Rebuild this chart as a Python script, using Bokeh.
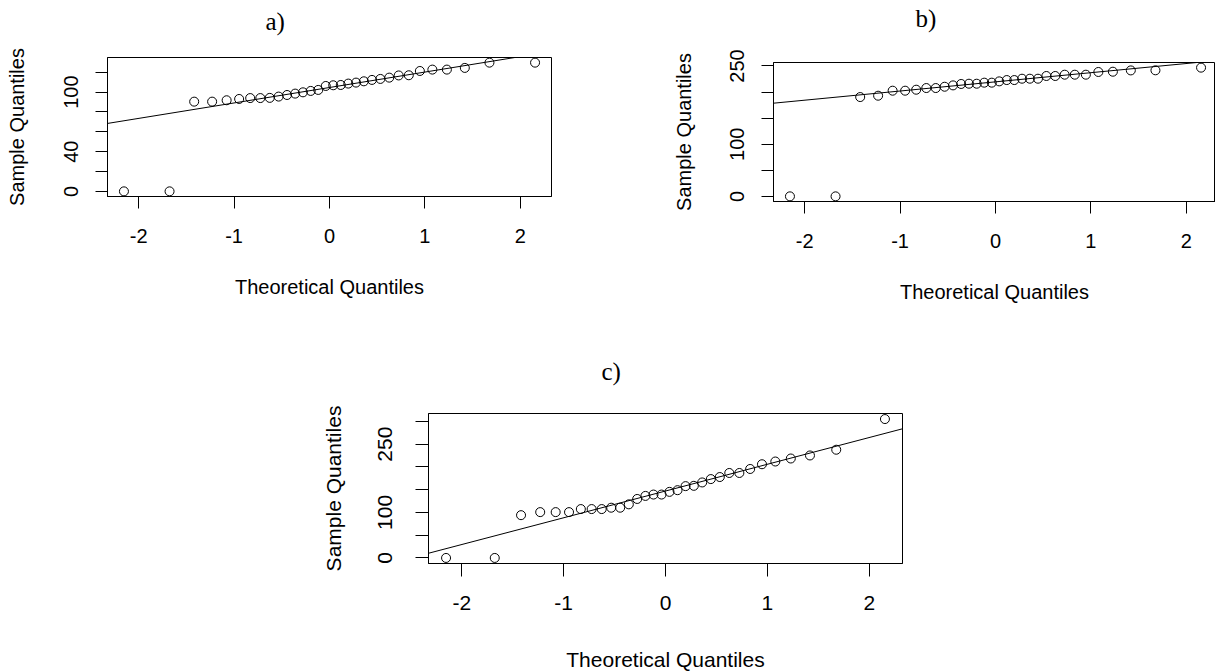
import numpy as np
from bokeh.plotting import figure
from bokeh.layouts import column, row
from bokeh.models import Range1d, FixedTicker, Slope, Spacer
from bokeh.embed import file_html
from bokeh.resources import INLINE

# ---- data ----
theoretical_q = [-2.154, -1.676, -1.418, -1.230, -1.078, -0.947, -0.831, -0.725,
                 -0.626, -0.533, -0.445, -0.360, -0.278, -0.197, -0.118, -0.039,
                 0.039, 0.118, 0.197, 0.278, 0.360, 0.445, 0.533, 0.626,
                 0.725, 0.831, 0.947, 1.078, 1.230, 1.418, 1.676, 2.154]

sample_a = [0, 0, 90.4, 90.4, 91.8, 93.1, 94.0, 94.0, 94.2, 95.5, 97.1, 98.5,
            99.8, 101.2, 102.2, 106.2, 106.9, 107.2, 108.6, 109.6, 110.9, 112.3,
            113.3, 114.6, 116.8, 117.0, 121.3, 122.7, 122.7, 124.4, 129.7, 129.7]

sample_b = [0, 0, 190.4, 193.0, 202.6, 202.6, 204.5, 207.7, 207.7, 210.2, 212.8,
            215.5, 216.0, 216.0, 218.0, 218.0, 220.5, 223.0, 223.0, 225.6, 225.6,
            225.6, 230.8, 230.8, 233.3, 233.3, 233.3, 238.5, 239.0, 241.5, 241.7, 246.8]

sample_c = [0, 0, 94.0, 100.7, 100.7, 100.7, 107.4, 107.4, 107.4, 110.4, 110.4,
            117.8, 129.6, 136.3, 139.3, 139.3, 145.2, 148.9, 157.8, 158.5, 165.9,
            173.3, 177.8, 186.7, 186.7, 195.5, 205.9, 211.9, 218.5, 225.2, 237.8, 305.2]

titles = ["a)", "b)", "c)"]
x_ticks = [-2, -1, 0, 1, 2]
y_ticks_a = [0, 20, 40, 60, 80, 100, 120]
y_labels_a = [0, 40, 100]
y_ticks_b = [0, 50, 100, 150, 200, 250]
y_labels_b = [0, 100, 250]
y_ticks_c = [0, 50, 100, 150, 200, 250, 300]
y_labels_c = [0, 100, 250]
x_label = "Theoretical Quantiles"
y_label = "Sample Quantiles"

QN25 = -0.6744897501960817  # normal quartiles used by qqline
QN75 = 0.6744897501960817


def qq_panel(sample, title, yticks, ylabels, fw, fh, bl, br, bt, bb,
             x_frac=1.0, fs=20, title_offset=0, title_pad=0,
             tick_len=12, ml_x=20, al_x=30, ml_y=17, al_y=34):
    x = np.array(theoretical_q)
    y = np.array(sample, dtype=float)
    xr = x.max() - x.min()
    yr = y.max() - y.min()
    x0, x1full = x.min() - 0.04 * xr, x.max() + 0.04 * xr
    x1 = x0 + (x1full - x0) * x_frac
    y0, y1 = y.min() - 0.04 * yr, y.max() + 0.04 * yr

    p = figure(frame_width=fw, frame_height=fh,
               min_border_left=bl, min_border_right=br,
               min_border_top=bt, min_border_bottom=bb,
               x_range=Range1d(x0, x1), y_range=Range1d(y0, y1),
               toolbar_location=None, output_backend="svg")
    p.title.text = title
    p.title.align = "left"
    p.title.vertical_align = "bottom"
    p.title.offset = title_offset
    p.title.standoff = 0
    try:
        p.title.padding = dict(left=0, right=0, top=0, bottom=title_pad)
    except Exception:
        try:
            p.title.padding = (0, 0, title_pad, 0)
        except Exception:
            p.title.standoff = min(2 * title_pad, bt - 31)
    p.title.text_font = "Liberation Serif"
    p.title.text_font_size = "25px"
    p.title.text_font_style = "normal"
    p.title.text_color = "black"

    p.xgrid.visible = False
    p.ygrid.visible = False
    p.outline_line_color = "black"
    p.outline_line_alpha = 1.0
    p.outline_line_width = 1
    p.background_fill_color = "white"
    p.border_fill_color = "white"

    for ax in (p.xaxis, p.yaxis):
        ax.axis_line_color = "black"
        ax.major_tick_line_color = "black"
        ax.major_tick_out = tick_len
        ax.major_tick_in = 0
        ax.minor_tick_out = 0
        ax.minor_tick_in = 0
        ax.major_label_text_font = "Liberation Sans"
        ax.major_label_text_font_size = f"{fs}px"
        ax.major_label_text_color = "black"
        ax.axis_label_text_font = "Liberation Sans"
        ax.axis_label_text_font_size = f"{fs}px"
        ax.axis_label_text_font_style = "normal"
        ax.axis_label_text_color = "black"

    p.xaxis.ticker = FixedTicker(ticks=x_ticks)
    p.xaxis.major_label_overrides = {t: str(t) for t in x_ticks}
    p.xaxis.axis_label = x_label
    p.xaxis.major_label_standoff = ml_x
    p.xaxis.axis_label_standoff = al_x

    p.yaxis.ticker = FixedTicker(ticks=yticks)
    p.yaxis.major_label_overrides = {t: (str(t) if t in ylabels else "") for t in yticks}
    p.yaxis.major_label_orientation = "vertical"
    p.yaxis.axis_label = y_label
    p.yaxis.major_label_standoff = ml_y
    p.yaxis.axis_label_standoff = al_y

    q1, q3 = np.percentile(y, [25, 75])
    slope = (q3 - q1) / (QN75 - QN25)
    intercept = q1 - slope * QN25
    p.add_layout(Slope(gradient=slope, y_intercept=intercept,
                       line_color="black", line_width=1))

    p.scatter(x, y, marker="circle", size=9, fill_color=None,
              line_color="black", line_width=1)
    return p


pa = qq_panel(sample_a, titles[0], y_ticks_a, y_labels_a,
              fw=444, fh=139, bl=107, br=109, bt=57, bb=144,
              title_offset=158, title_pad=23, ml_y=17, al_y=34)
pb = qq_panel(sample_b, titles[1], y_ticks_b, y_labels_b,
              fw=442, fh=139, bl=113, br=0, bt=61, bb=139,
              x_frac=442 / 444, title_offset=142, title_pad=31, ml_y=17, al_y=33)
pc = qq_panel(sample_c, titles[2], y_ticks_c, y_labels_c,
              fw=474, fh=150, bl=128, br=100, bt=73, bb=108,
              fs=21, title_offset=173, title_pad=29, tick_len=13,
              ml_x=19, al_x=35, ml_y=23, al_y=31)

layout = column(row(pa, column(Spacer(width=555, height=1), pb)),
                row(Spacer(width=300, height=331), pc))

open("out.html", "w").write(file_html(layout, INLINE))
